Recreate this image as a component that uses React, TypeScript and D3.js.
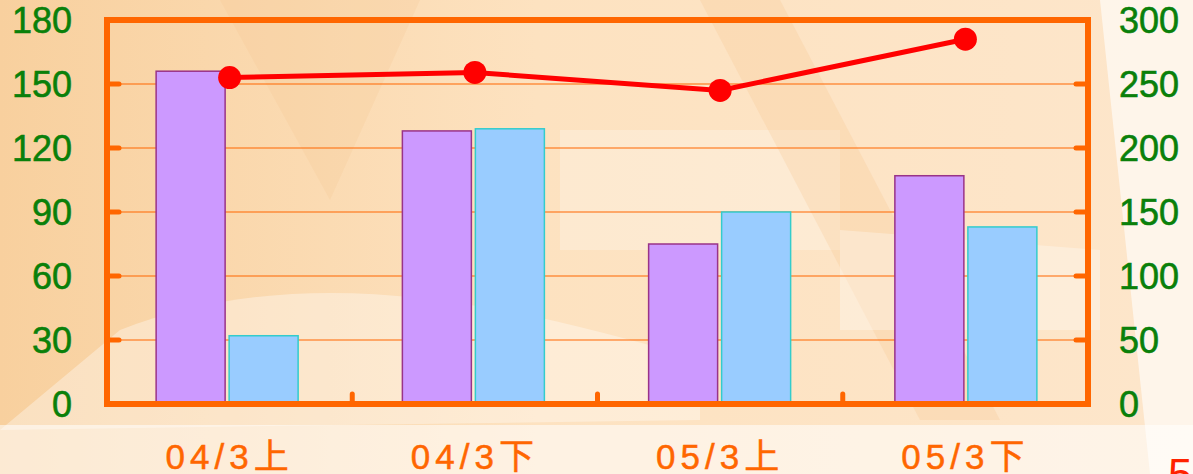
import { useEffect, useRef } from "react";
import * as d3 from "d3";

const categories = ["04/3上", "04/3下", "05/3上", "05/3下"];
const purpleValues = [156, 128, 75, 107];
const blueValues = [32, 129, 90, 83];
const lineValues = [255, 259, 245, 285];
const leftTicks = [0, 30, 60, 90, 120, 150, 180];
const rightTicks = [0, 50, 100, 150, 200, 250, 300];

const W = 1193;
const H = 474;
const ORANGE = "#ff6600";
const GREEN = "#0a800a";

export default function App() {
  const svgRef = useRef<SVGSVGElement>(null);

  useEffect(() => {
    if (!svgRef.current) return;
    document.body.style.margin = "0";
    const root = d3.select(svgRef.current);
    root.selectAll("*").remove();

    const m = { top: 20, right: 105, bottom: 70, left: 107 };
    const iW = W - m.left - m.right;
    const iH = H - m.top - m.bottom;

    // fond pêche + filigrane approximatif
    const defs = root.append("defs");
    const grad = defs.append("linearGradient").attr("id", "bg").attr("x1", 0).attr("x2", 1).attr("y1", 0).attr("y2", 0);
    grad.append("stop").attr("offset", "0%").attr("stop-color", "#f8d09e");
    grad.append("stop").attr("offset", "45%").attr("stop-color", "#fde2c0");
    grad.append("stop").attr("offset", "100%").attr("stop-color", "#fde6cb");
    root.append("rect").attr("width", W).attr("height", H).attr("fill", "url(#bg)");
    const shapes = [
      { d: "M0,425 L1193,425 L1193,474 L0,474 Z", fill: "#ffffff", op: 0.55 },
      { d: "M120,330 C300,260 500,300 700,360 L700,420 L0,430 Z", fill: "#ffffff", op: 0.35 },
      { d: "M1100,0 L1193,0 L1193,474 L1150,474 Z", fill: "#ffffff", op: 0.6 },
      { d: "M560,130 L840,130 L840,250 L560,250 Z", fill: "#ffffff", op: 0.25 },
      { d: "M700,0 L780,0 L1000,420 L920,420 Z", fill: "#f6c48a", op: 0.25 },
      { d: "M220,0 L420,0 L330,200 Z", fill: "#f6c48a", op: 0.2 },
      { d: "M840,230 L1100,250 L1100,330 L840,330 Z", fill: "#ffffff", op: 0.3 },
    ];
    root.selectAll(".wm").data(shapes).join("path")
      .attr("d", s => s.d).attr("fill", s => s.fill).attr("opacity", s => s.op);

    const svg = root.append("g").attr("transform", `translate(${m.left},${m.top})`);

    const x0 = d3.scaleBand().domain(categories).range([0, iW]).paddingInner(0).paddingOuter(0);
    // les barres sont très légèrement décalées par rapport aux points
    const xBars = d3.scaleBand().domain(categories).range([-2, iW + 2]);
    const x1 = d3.scaleBand().domain(["a", "b"]).range([xBars.bandwidth() / 2 - 72, xBars.bandwidth() / 2 + 70]).paddingInner(0.055);
    const yL = d3.scaleLinear().domain([0, 180]).range([iH, 0]);
    const yR = d3.scaleLinear().domain([0, 300]).range([iH, 0]);

    // grille
    svg.selectAll(".grid").data(leftTicks.slice(1, -1)).join("line")
      .attr("x1", 0).attr("x2", iW)
      .attr("y1", d => yL(d)).attr("y2", d => yL(d))
      .attr("stroke", ORANGE).attr("stroke-width", 1.2);

    // barres
    const groups = svg.selectAll(".grp").data(categories).join("g")
      .attr("transform", d => `translate(${xBars(d)},0)`);
    groups.append("rect")
      .attr("x", x1("a")!).attr("width", x1.bandwidth())
      .attr("y", (_, i) => yL(purpleValues[i])).attr("height", (_, i) => iH - yL(purpleValues[i]))
      .attr("fill", "#cc99ff").attr("stroke", "#993388").attr("stroke-width", 1.5);
    groups.append("rect")
      .attr("x", x1("b")!).attr("width", x1.bandwidth())
      .attr("y", (_, i) => yL(blueValues[i])).attr("height", (_, i) => iH - yL(blueValues[i]))
      .attr("fill", "#99ccff").attr("stroke", "#33cccc").attr("stroke-width", 1.5);

    // cadre
    svg.append("rect").attr("x", 0).attr("y", 0).attr("width", iW).attr("height", iH)
      .attr("fill", "none").attr("stroke", ORANGE).attr("stroke-width", 6);

    // petits traits de graduation
    svg.selectAll(".tl").data(leftTicks.slice(1, -1)).join("line")
      .attr("x1", 0).attr("x2", 12).attr("y1", d => yL(d)).attr("y2", d => yL(d))
      .attr("stroke", ORANGE).attr("stroke-width", 5).attr("stroke-linecap", "round");
    svg.selectAll(".tr").data(rightTicks.slice(1, -1)).join("line")
      .attr("x1", iW - 12).attr("x2", iW).attr("y1", d => yR(d)).attr("y2", d => yR(d))
      .attr("stroke", ORANGE).attr("stroke-width", 5).attr("stroke-linecap", "round");
    svg.selectAll(".tb").data(categories.slice(1)).join("line")
      .attr("x1", d => x0(d)!).attr("x2", d => x0(d)!)
      .attr("y1", iH).attr("y2", iH - 10)
      .attr("stroke", ORANGE).attr("stroke-width", 5).attr("stroke-linecap", "round");

    // libellés des axes
    const fontFam = "Liberation Sans, Arial, sans-serif";
    svg.selectAll(".ll").data(leftTicks).join("text")
      .attr("x", -35).attr("y", d => yL(d)).attr("dy", "0.36em")
      .attr("text-anchor", "end").attr("fill", GREEN)
      .style("font-family", fontFam).style("font-size", "36px")
      .style("stroke", GREEN).style("stroke-width", 0.6).text(d => d);
    svg.selectAll(".rl").data(rightTicks).join("text")
      .attr("x", iW + 31).attr("y", d => yR(d)).attr("dy", "0.36em")
      .attr("text-anchor", "start").attr("fill", GREEN)
      .style("font-family", fontFam).style("font-size", "36px")
      .style("stroke", GREEN).style("stroke-width", 0.6).text(d => d);
    svg.selectAll(".xl").data(categories).join("text")
      .attr("x", d => x0(d)! + x0.bandwidth() / 2).attr("y", iH + 65)
      .attr("text-anchor", "middle").attr("fill", ORANGE)
      .style("font-family", "Liberation Sans, 'Noto Sans CJK SC', sans-serif").style("font-size", "35px")
      .style("stroke", ORANGE).style("stroke-width", 0.5)
      .style("letter-spacing", "5px").text(d => d);

    // courbe
    const line = d3.line<number>()
      .x((_, i) => x0(categories[i])! + x0.bandwidth() / 2)
      .y(d => yR(d));
    svg.append("path").datum(lineValues).attr("d", line)
      .attr("fill", "none").attr("stroke", "#ff0000").attr("stroke-width", 5);
    svg.selectAll(".dot").data(lineValues).join("circle")
      .attr("cx", (_, i) => x0(categories[i])! + x0.bandwidth() / 2)
      .attr("cy", d => yR(d)).attr("r", 11.5).attr("fill", "#ff0000");

    // numéro de page
    root.append("text").attr("x", 1168).attr("y", 490).attr("fill", "#ff2200")
      .style("font-family", fontFam).style("font-size", "44px").text("5");
  }, []);

  return <svg ref={svgRef} width={W} height={H} style={{ display: "block" }} />;
}
